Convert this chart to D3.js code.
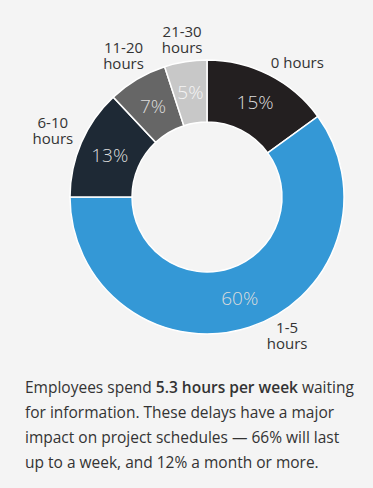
<!DOCTYPE html>
<html><head><meta charset="utf-8">
<script src="https://cdn.jsdelivr.net/npm/d3@7"></script>
<style>
html,body{margin:0;padding:0;background:#f4f4f4;}
svg{display:block;}
</style></head>
<body>
<svg id="chart" width="373" height="488"></svg>
<script>
const categories = ["0 hours", "1-5 hours", "6-10 hours", "11-20 hours", "21-30 hours"];
const labelLines = [["0 hours"], ["1-5", "hours"], ["6-10", "hours"], ["11-20", "hours"], ["21-30", "hours"]];
const values = [15, 60, 13, 7, 5];
const colors = ["#231f20", "#3498d6", "#1e2935", "#666666", "#c8c8c8"];
const captionLines = [
  [["Employees spend ", false], ["5.3 hours per week", true], [" waiting", false]],
  [["for information. These delays have a major", false]],
  [["impact on project schedules \u2014 66% will last", false]],
  [["up to a week, and 12% a month or more.", false]]
];

const svg = d3.select("#chart");
svg.append("rect").attr("width", 373).attr("height", 488).attr("fill", "#f4f4f4");

const cx = 207, cy = 197, rOuter = 137, rInner = 75;
const data = categories.map((c, i) => ({cat: c, value: values[i], lines: labelLines[i], color: colors[i]}));
const pie = d3.pie().value(d => d.value).sort(null);
const arcs = pie(data);
const arc = d3.arc().innerRadius(rInner).outerRadius(rOuter);
const g = svg.append("g").attr("transform", `translate(${cx},${cy})`);

g.selectAll("path.slice").data(arcs).join("path")
  .attr("class", "slice")
  .attr("d", arc)
  .attr("fill", d => d.data.color)
  .attr("stroke", "#ffffff")
  .attr("stroke-width", 1.5);

g.selectAll("text.pct").data(arcs).join("text")
  .attr("class", "pct")
  .attr("transform", d => `translate(${arc.centroid(d)})`)
  .attr("text-anchor", "middle")
  .attr("dy", "0.36em")
  .attr("font-family", "'Open Sans', 'Noto Sans', sans-serif")
  .attr("font-weight", 300)
  .attr("font-size", 19)
  .attr("fill", d => d.data.cat === "21-30 hours" ? "#f4f4f4" : "#dcdcdc")
  .text(d => d.data.value + "%");

// outer labels
const angleShift = {"0 hours": 0.12, "1-5 hours": -0.21};
const radiusFor = {"0 hours": 162, "1-5 hours": 160, "6-10 hours": 168, "11-20 hours": 164, "21-30 hours": 159};
const lineH = 16;
g.selectAll("text.lbl").data(arcs).join("text")
  .attr("class", "lbl")
  .attr("font-family", "'Open Sans', 'Noto Sans', sans-serif")
  .attr("font-size", 15)
  .attr("fill", "#333333")
  .attr("text-anchor", "middle")
  .each(function(d) {
    const a = (d.startAngle + d.endAngle) / 2 + (angleShift[d.data.cat] || 0);
    const r = radiusFor[d.data.cat];
    const x = Math.sin(a) * r, y = -Math.cos(a) * r;
    const n = d.data.lines.length;
    const t = d3.select(this);
    d.data.lines.forEach((ln, i) => {
      t.append("tspan").attr("x", x)
        .attr("y", y + (i - (n - 1) / 2) * lineH)
        .attr("dy", "0.35em")
        .text(ln);
    });
  });

// caption
const cap = svg.append("text")
  .attr("font-family", "'Open Sans', 'Noto Sans', sans-serif")
  .attr("font-size", 15.5)
  .attr("fill", "#333333");
captionLines.forEach((parts, i) => {
  parts.forEach((p, j) => {
    const ts = cap.append("tspan").text(p[0]).attr("font-weight", p[1] ? 600 : 400);
    if (j === 0) ts.attr("x", 25).attr("y", 393 + i * 25);
  });
});
</script>
</body></html>
